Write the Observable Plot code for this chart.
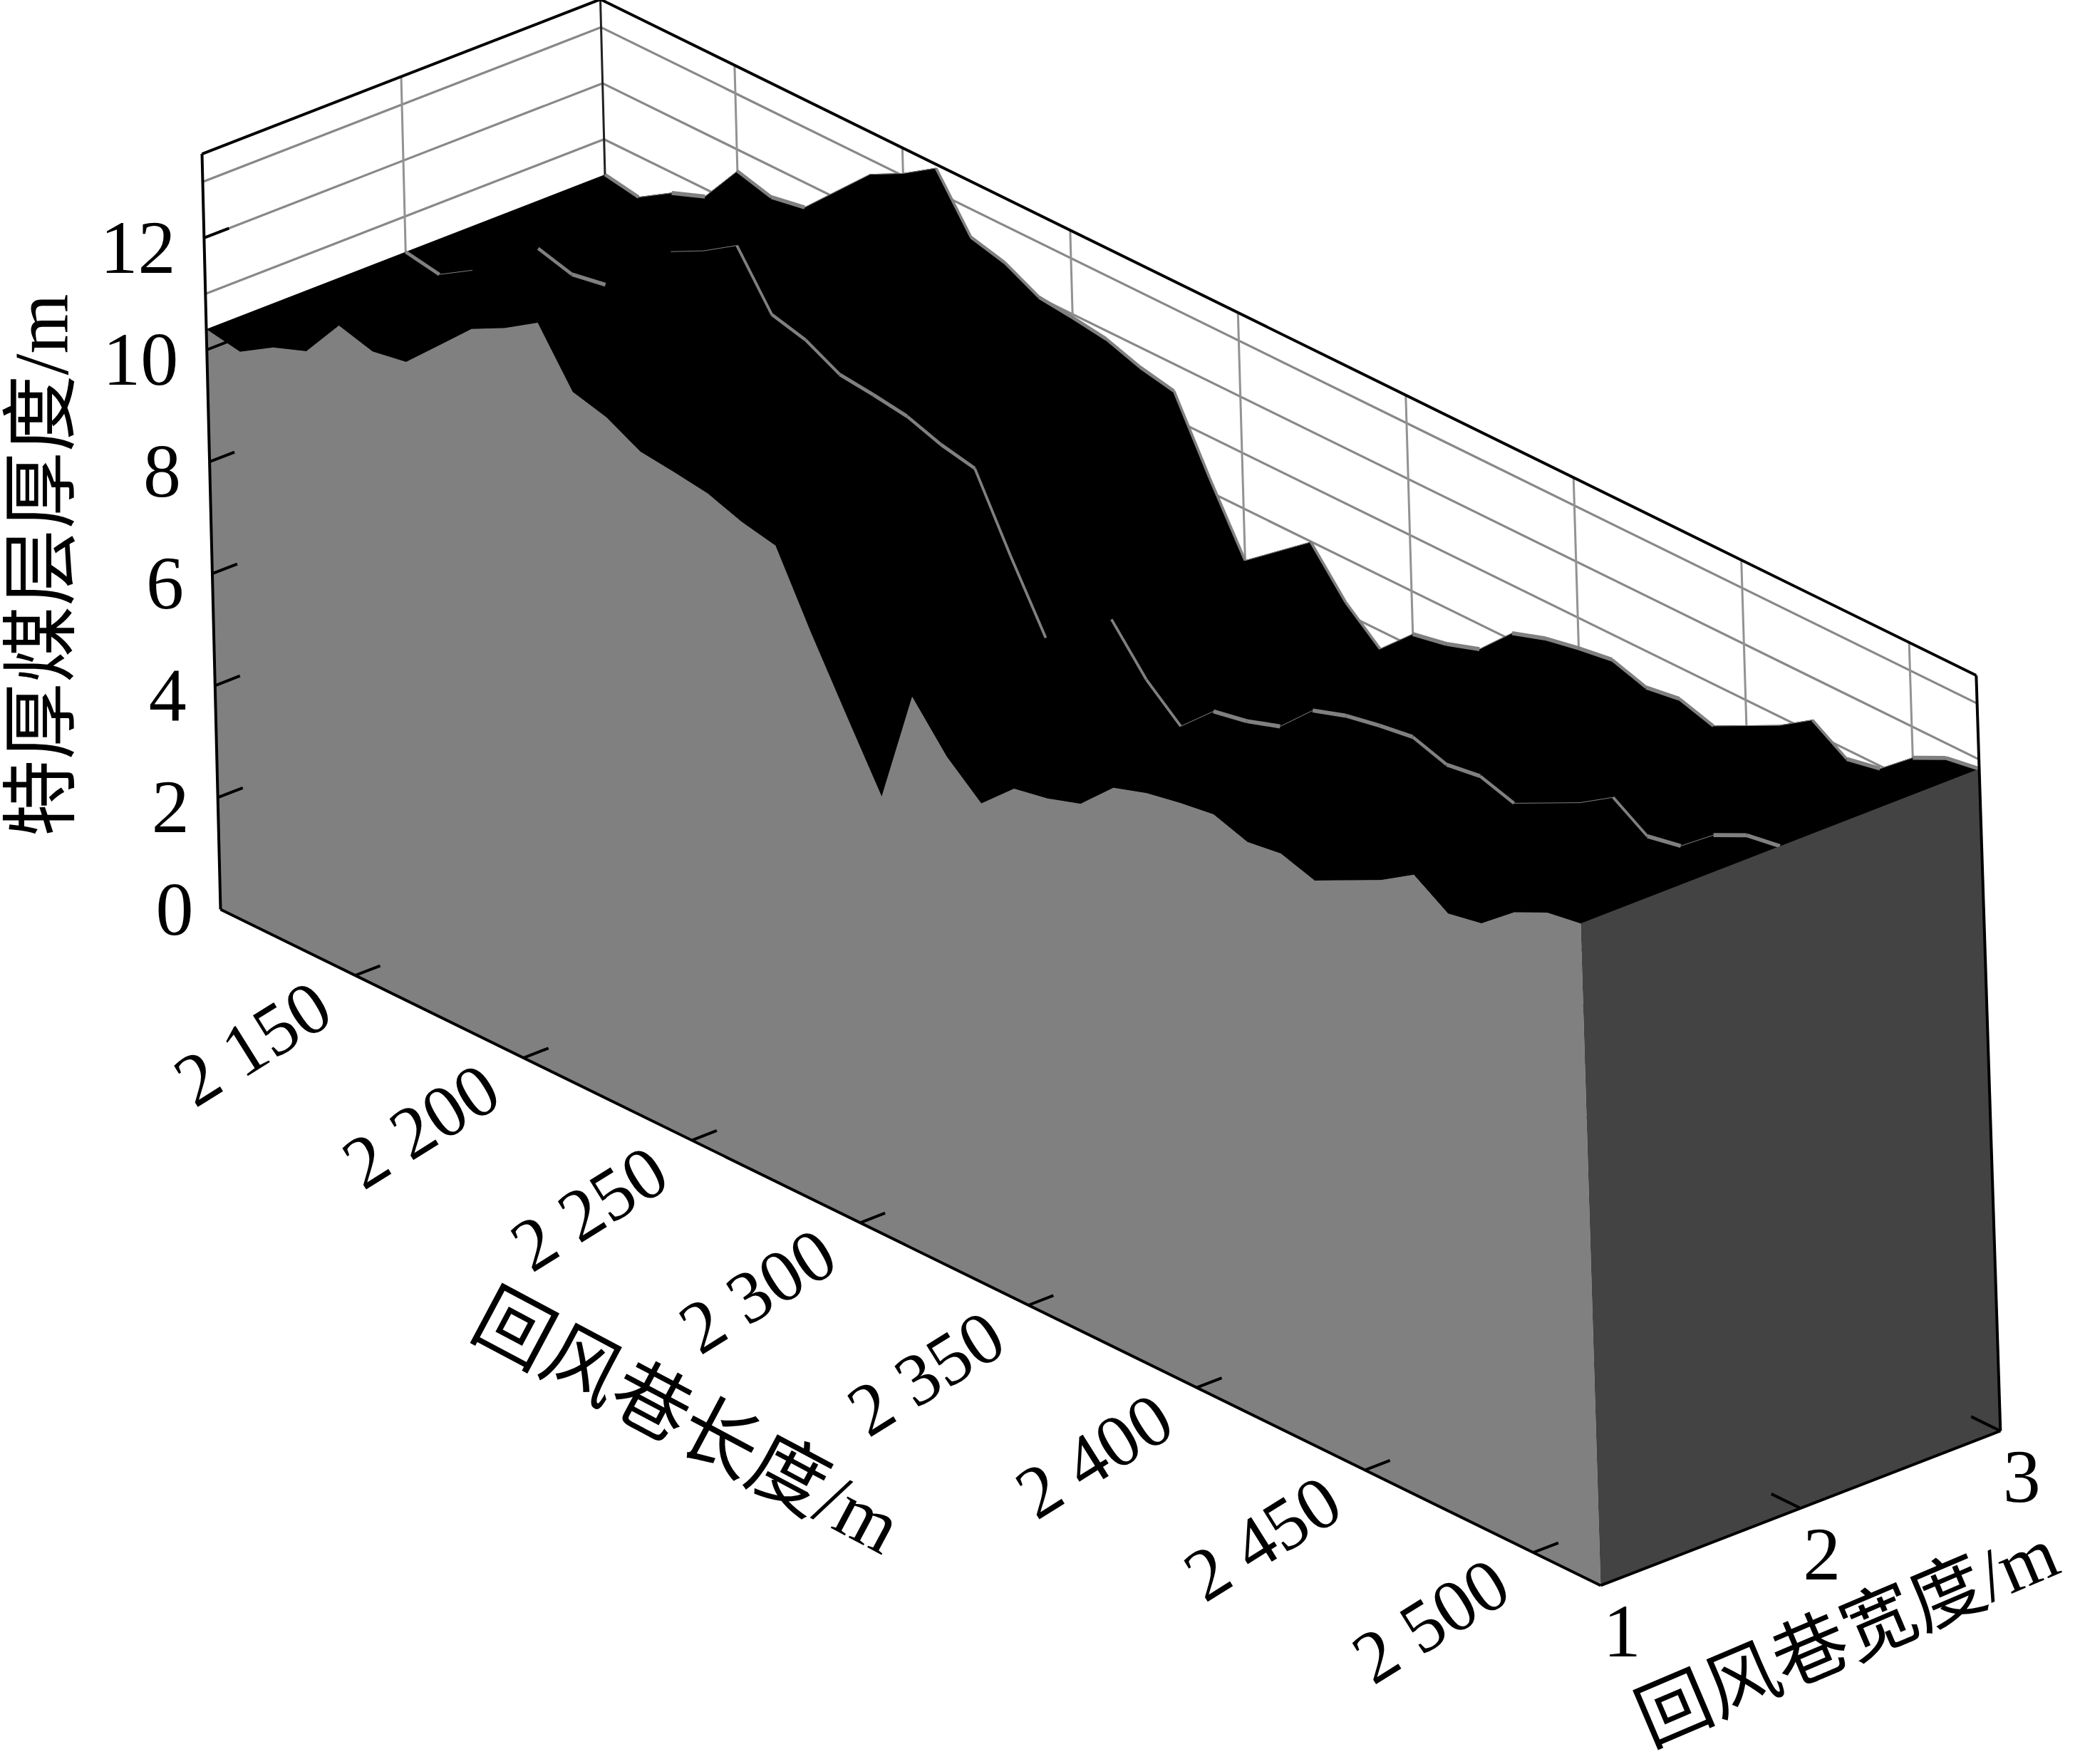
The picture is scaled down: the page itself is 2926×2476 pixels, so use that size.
<!DOCTYPE html>
<html>
<head>
<meta charset="utf-8">
<style>
html,body{margin:0;padding:0;background:#fff}
svg{display:block}
</style>
<script src="https://cdn.jsdelivr.net/npm/d3@7"></script>
<script src="https://cdn.jsdelivr.net/npm/@observablehq/plot@0.6"></script>
</head>
<body>
<div id="chart"></div>
<script>
const lengths = [2110,2120,2130,2140,2150,2160,2170,2180,2190,2200,2210,2220,2230,2240,2250,2260,2270,2280,2290,2300,2310,2320,2330,2340,2350,2360,2370,2380,2390,2400,2410,2420,2430,2440,2450,2460,2470,2480,2490,2500,2510,2520];
const thicknessW1 = [10.37,10.26,10.63,10.86,11.61,11.44,11.55,12.14,12.73,13.04,13.43,12.49,12.33,12.01,11.94,11.85,11.64,11.51,10.25,9.07,7.91,9.99,9.21,8.67,9.23,9.35,9.55,10.13,10.33,10.45,10.54,10.34,10.43,10.24,10.54,10.84,11.23,10.83,10.95,11.44,11.73,11.83];
const thicknessW2 = [10.37,10.26,10.63,null,11.61,11.44,11.55,null,12.73,13.04,13.43,12.49,12.33,12.01,11.94,11.85,11.64,11.51,10.25,9.07,null,9.99,9.21,8.67,9.23,9.35,9.55,10.13,10.33,10.45,10.54,10.34,10.43,10.24,10.54,10.84,11.23,10.83,10.95,11.44,11.73,11.83];
const thicknessW3 = [10.37,10.26,10.63,10.86,11.61,11.44,11.55,12.14,12.73,13.04,13.43,12.49,12.33,12.01,11.94,11.85,11.64,11.51,10.25,9.07,9.53,9.99,9.21,8.67,9.23,9.35,9.55,10.13,10.33,10.45,10.54,10.34,10.43,10.24,10.54,10.84,11.23,10.83,10.95,11.44,11.73,11.83];
const lengthTicks = [2150,2200,2250,2300,2350,2400,2450,2500];
const lengthTickLabels = ["2 150","2 200","2 250","2 300","2 350","2 400","2 450","2 500"];
const widthTicks = [1,2,3];
const thicknessTicks = [0,2,4,6,8,10,12];
const gridLevels = [1,2,3,4,5,6,7,8,9,10,11,12,13];
const lengthMin = 2110, lengthMax = 2520, widthMin = 1, widthMax = 3, thicknessMax = 13.5;
const titleZ = "特厚煤层厚度/m", titleL = "回风巷长度/m", titleW = "回风巷宽度/m";

const serif = '"Liberation Serif","Noto Sans CJK SC",serif';

// oblique projection of (length, width, thickness) onto the picture plane
function project(l, w, z) {
  const lean = (26 + 6 * (l - lengthMin) / (lengthMax - lengthMin) + (w - 1)) / thicknessMax;
  return {
    px: 309 + (l - lengthMin) * 4.724 + (w - 1) * 280.5 - z * lean,
    py: 1276 + (l - lengthMin) * 2.3146 - (w - 1) * 108.5 - z * 78.55
  };
}
const seg = (a, b, extra = {}) => {
  const p = project(...a), q = project(...b);
  return {x1: p.px, y1: p.py, x2: q.px, y2: q.py, ...extra};
};
const profile = (arr, w) => lengths.map((l, i) => project(l, w, arr[i]));
const profileSegments = (arr, w) => {
  const out = [];
  for (let i = 0; i + 1 < lengths.length; i++) {
    if (arr[i] == null || arr[i + 1] == null) continue;
    const s = seg([lengths[i], w, arr[i]], [lengths[i + 1], w, arr[i + 1]]);
    const dx = s.x2 - s.x1, dy = s.y2 - s.y1;
    s.sw = dy < 0 ? 1 : Math.max(3.8, 5.8 * dx / Math.hypot(dx, dy));
    out.push(s);
  }
  return out;
};

const base = (l, w) => project(l, w, 0);
const frontWall = [base(lengthMin, 1), ...profile(thicknessW1, 1), base(lengthMax, 1)];
const endWall = [base(lengthMax, 1), base(lengthMax, 3), project(lengthMax, 3, thicknessW3.at(-1)), project(lengthMax, 1, thicknessW1.at(-1))];
const surface = [...profile(thicknessW1, 1), ...profile(thicknessW3, 3).reverse()];

const gridH = [];
for (const z of gridLevels) {
  gridH.push(seg([lengthMin, 3, z], [lengthMax, 3, z]));
  gridH.push(seg([lengthMin, 1, z], [lengthMin, 3, z]));
}
const gridV = [
  ...lengthTicks.map(l => seg([l, 3, 0], [l, 3, thicknessMax])),
  seg([lengthMin, 2, 0], [lengthMin, 2, thicknessMax])
];
const frame = [
  seg([lengthMin, 1, 0], [lengthMin, 1, thicknessMax]),
  seg([lengthMin, 1, thicknessMax], [lengthMin, 3, thicknessMax]),
  seg([lengthMin, 3, thicknessMax], [lengthMax, 3, thicknessMax]),
  seg([lengthMax, 3, thicknessMax], [lengthMax, 3, 0]),
  seg([lengthMin, 1, 0], [lengthMax, 1, 0]),
  seg([lengthMax, 1, 0], [lengthMax, 3, 0]),
  seg([lengthMin, 3, 0], [lengthMin, 3, thicknessMax])
];
const ticks = [
  ...lengthTicks.map(l => seg([l, 1, 0], [l, 1.125, 0])),
  ...thicknessTicks.filter(z => z > 0).map(z => seg([lengthMin, 1, z], [lengthMin, 1.125, z])),
  ...widthTicks.filter(w => w > 1).map(w => seg([lengthMax, w, 0], [lengthMax - 8.7, w, 0]))
];

const fig = Plot.plot({
  width: 2926, height: 2476,
  marginTop: 0, marginRight: 0, marginBottom: 0, marginLeft: 0,
  style: {background: "#fff"},
  x: {domain: [0, 2926], range: [0, 2926], axis: null},
  y: {domain: [0, 2476], range: [0, 2476], axis: null},
  marks: [
    Plot.link(gridH, {x1: "x1", y1: "y1", x2: "x2", y2: "y2", stroke: "#888888", strokeWidth: 3.2}),
    Plot.link(gridV, {x1: "x1", y1: "y1", x2: "x2", y2: "y2", stroke: "#929292", strokeWidth: 3}),
    Plot.link([frame[6]], {x1: "x1", y1: "y1", x2: "x2", y2: "y2", stroke: "#222", strokeWidth: 3}),
    Plot.line(surface, {x: "px", y: "py", fill: "#000", stroke: "#000", strokeWidth: 1}),
    Plot.link(profileSegments(thicknessW2, 2), {x1: "x1", y1: "y1", x2: "x2", y2: "y2", stroke: "#808080", strokeWidth: "sw"}),
    Plot.link(profileSegments(thicknessW3, 3), {x1: "x1", y1: "y1", x2: "x2", y2: "y2", stroke: "#808080", strokeWidth: "sw"}),
    Plot.line(frontWall, {x: "px", y: "py", fill: "#808080", stroke: "none"}),
    Plot.line(endWall, {x: "px", y: "py", fill: "#434343", stroke: "none"}),
    Plot.link(frame.slice(0, 6), {x1: "x1", y1: "y1", x2: "x2", y2: "y2", stroke: "#000", strokeWidth: 4}),
    Plot.link(ticks, {x1: "x1", y1: "y1", x2: "x2", y2: "y2", stroke: "#000", strokeWidth: 4}),
    Plot.text(lengthTicks.map((l, i) => ({...base(l, 1), t: lengthTickLabels[i]})), {
      x: "px", y: "py", text: "t", dx: -143, dy: 97, rotate: -32,
      fontFamily: serif, fontSize: 104, fill: "#000"
    }),
    Plot.text(thicknessTicks.filter(z => z > 0).map(z => ({...project(lengthMin, 1, z), t: String(z)})), {
      x: "px", y: "py", text: "t", dx: -40, dy: 15, textAnchor: "end",
      fontFamily: serif, fontSize: 106, fill: "#000"
    }),
    Plot.text(thicknessTicks.filter(z => z === 0).map(z => ({...project(lengthMin, 1, z), t: String(z)})), {
      x: "px", y: "py", text: "t", dx: -38, dy: 2, textAnchor: "end",
      fontFamily: serif, fontSize: 106, fill: "#000"
    }),
    Plot.text(widthTicks.map(w => ({...base(lengthMax, w), t: String(w)})), {
      x: "px", y: "py", text: "t", dx: 30, dy: 66,
      fontFamily: serif, fontSize: 106, fill: "#000"
    }),
    Plot.text([{px: 60, py: 793, t: titleZ}], {x: "px", y: "py", text: "t", rotate: -90, fontFamily: serif, fontSize: 108, fill: "#000"}),
    Plot.text([{px: 963, py: 1997, t: titleL}], {x: "px", y: "py", text: "t", rotate: 28, fontFamily: serif, fontSize: 109, fill: "#000"}),
    Plot.text([{px: 2592, py: 2298, t: titleW}], {x: "px", y: "py", text: "t", rotate: -23, fontFamily: serif, fontSize: 104, fill: "#000"})
  ]
});
document.getElementById("chart").appendChild(fig);
</script>
</body>
</html>
